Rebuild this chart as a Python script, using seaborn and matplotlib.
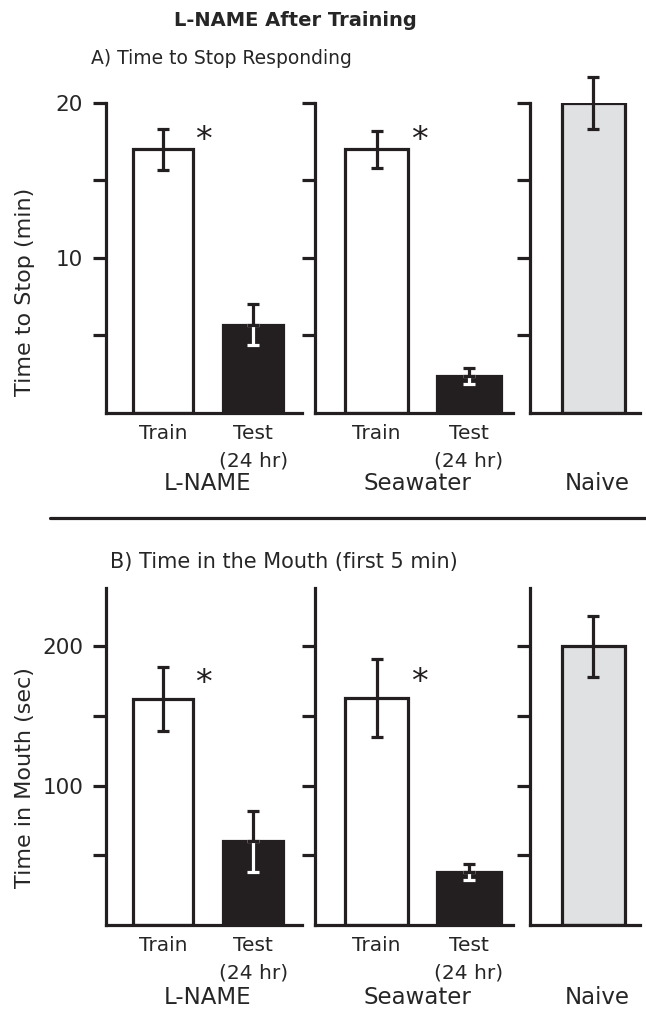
import matplotlib
matplotlib.use("Agg")
import matplotlib.pyplot as plt
from matplotlib.lines import Line2D
import seaborn as sns
import pandas as pd

sns.set_theme(style="white")
plt.rcParams["font.family"] = ["DejaVu Sans"]

# ---- data ----
conditions = ["Train", "Test\n(24 hr)"]
groups = ["L-NAME", "Seawater"]

stop_lname = [17.0, 5.7]
stop_lname_err = [1.3, 1.3]
stop_sea = [17.0, 2.4]
stop_sea_err = [1.2, 0.5]
stop_naive = [20.0]
stop_naive_err = [1.7]

mouth_lname = [162, 60]
mouth_lname_err = [23, 22]
mouth_sea = [163, 38]
mouth_sea_err = [28, 6]
mouth_naive = [200]
mouth_naive_err = [22]

BLACK = "#231f20"
WHITE = "#ffffff"
GRAY = "#e0e1e3"
LW = 2.3

W, H = 646, 1015
fig = plt.figure(figsize=(W / 100, H / 100), dpi=100)


def px_axes(x0, x1, ytop, ybot):
    return fig.add_axes([x0 / W, 1 - ybot / H, (x1 - x0) / W, (ybot - ytop) / H])


def style_axes(ax, ymax, yticks, ylabels, show_labels):
    sns.despine(ax=ax)
    for s in ("left", "bottom"):
        ax.spines[s].set_linewidth(LW)
        ax.spines[s].set_color(BLACK)
    ax.set_ylim(0, ymax)
    ax.set_yticks(yticks)
    ax.set_yticklabels(ylabels if show_labels else [])
    ax.tick_params(axis="y", direction="out", length=9.5, width=LW, color=BLACK,
                   labelsize=15.5, pad=7, left=True)
    ax.tick_params(axis="x", length=0, labelsize=14.5, pad=8)
    for lbl in ax.get_xticklabels():
        lbl.set_linespacing(1.55)
    ax.set_xlabel("")
    ax.set_ylabel("")


def bars(ax, labels, values, errs, colors, xlim, width):
    df = pd.DataFrame({"cond": labels, "val": values})
    sns.barplot(data=df, x="cond", y="val", hue="cond", palette=colors,
                legend=False, ax=ax, width=width, edgecolor=BLACK,
                linewidth=LW, saturation=1, errorbar=None, zorder=2)
    for i, (v, e, c) in enumerate(zip(values, errs, colors)):
        if c == BLACK:
            # lower half shows in white against the dark bar
            ax.errorbar(i, v, yerr=[[e], [0]], fmt="none", ecolor=WHITE,
                        elinewidth=LW, capsize=4.5, capthick=LW, zorder=3,
                        clip_on=False)
            ax.errorbar(i, v, yerr=[[0], [e]], fmt="none", ecolor=BLACK,
                        elinewidth=LW, capsize=4.5, capthick=LW, zorder=4,
                        clip_on=False)
        else:
            ax.errorbar(i, v, yerr=[[e], [e]], fmt="none", ecolor=BLACK,
                        elinewidth=LW, capsize=4.5, capthick=LW, zorder=4,
                        clip_on=False)
    ax.set_xlim(*xlim)


def star(ax, i, v, width, rise):
    ax.annotate("*", xy=(i + width / 2, v), xytext=(1.5, -14 + rise),
                textcoords="offset points", ha="left", va="bottom",
                fontsize=24, color=BLACK)


rows = [
    dict(ytop=103, ybot=413, ymax=20, yticks=[5, 10, 15, 20],
         ylabels=["", "10", "", "20"],
         data=[(stop_lname, stop_lname_err), (stop_sea, stop_sea_err),
               (stop_naive, stop_naive_err)],
         group_y=484, ylab="Time to Stop (min)", ylab_y=292, star_rise=8.5),
    dict(ytop=588, ybot=925, ymax=242, yticks=[50, 100, 150, 200],
         ylabels=["", "100", "", "200"],
         data=[(mouth_lname, mouth_lname_err), (mouth_sea, mouth_sea_err),
               (mouth_naive, mouth_naive_err)],
         group_y=997, ylab="Time in Mouth (sec)", ylab_y=778, star_rise=13.5),
]

for row in rows:
    ax1 = px_axes(106, 302, row["ytop"], row["ybot"])
    ax2 = px_axes(315, 513, row["ytop"], row["ybot"])
    ax3 = px_axes(530, 640, row["ytop"], row["ybot"])
    (v1, e1), (v2, e2), (v3, e3) = row["data"]

    bars(ax1, conditions, v1, e1, [WHITE, BLACK], (-0.63, 1.54), 0.66)
    bars(ax2, conditions, v2, e2, [WHITE, BLACK], (-0.67, 1.48), 0.69)
    bars(ax3, ["Naive"], v3, e3, [GRAY], (-0.70, 0.52), 0.70)
    star(ax1, 0, v1[0], 0.66, row["star_rise"])
    star(ax2, 0, v2[0], 0.69, row["star_rise"])

    style_axes(ax1, row["ymax"], row["yticks"], row["ylabels"], True)
    style_axes(ax2, row["ymax"], row["yticks"], row["ylabels"], False)
    style_axes(ax3, row["ymax"], row["yticks"], row["ylabels"], False)
    ax3.set_xticklabels([""])

    gy = 1 - row["group_y"] / H
    fig.text(208 / W, gy, groups[0], ha="center", va="center", fontsize=16.5)
    fig.text(417 / W, gy, groups[1], ha="center", va="center", fontsize=16.5)
    fig.text(597 / W, gy, "Naive", ha="center", va="center", fontsize=16.5)
    fig.text(25 / W, 1 - row["ylab_y"] / H, row["ylab"], rotation=90,
             ha="center", va="center", fontsize=16)

fig.text(295 / W, 1 - 20 / H, "L-NAME After Training", ha="center",
         va="center", fontsize=14, fontweight="bold")
fig.text(91 / W, 1 - 58 / H, "A) Time to Stop Responding", ha="left",
         va="center", fontsize=13.5)
fig.text(110 / W, 1 - 562 / H, "B) Time in the Mouth (first 5 min)",
         ha="left", va="center", fontsize=15)

fig.add_artist(Line2D([50 / W, 1.0], [1 - 518 / H, 1 - 518 / H],
                      color=BLACK, linewidth=LW, transform=fig.transFigure))

fig.savefig("out.png", dpi=100, facecolor="white")
